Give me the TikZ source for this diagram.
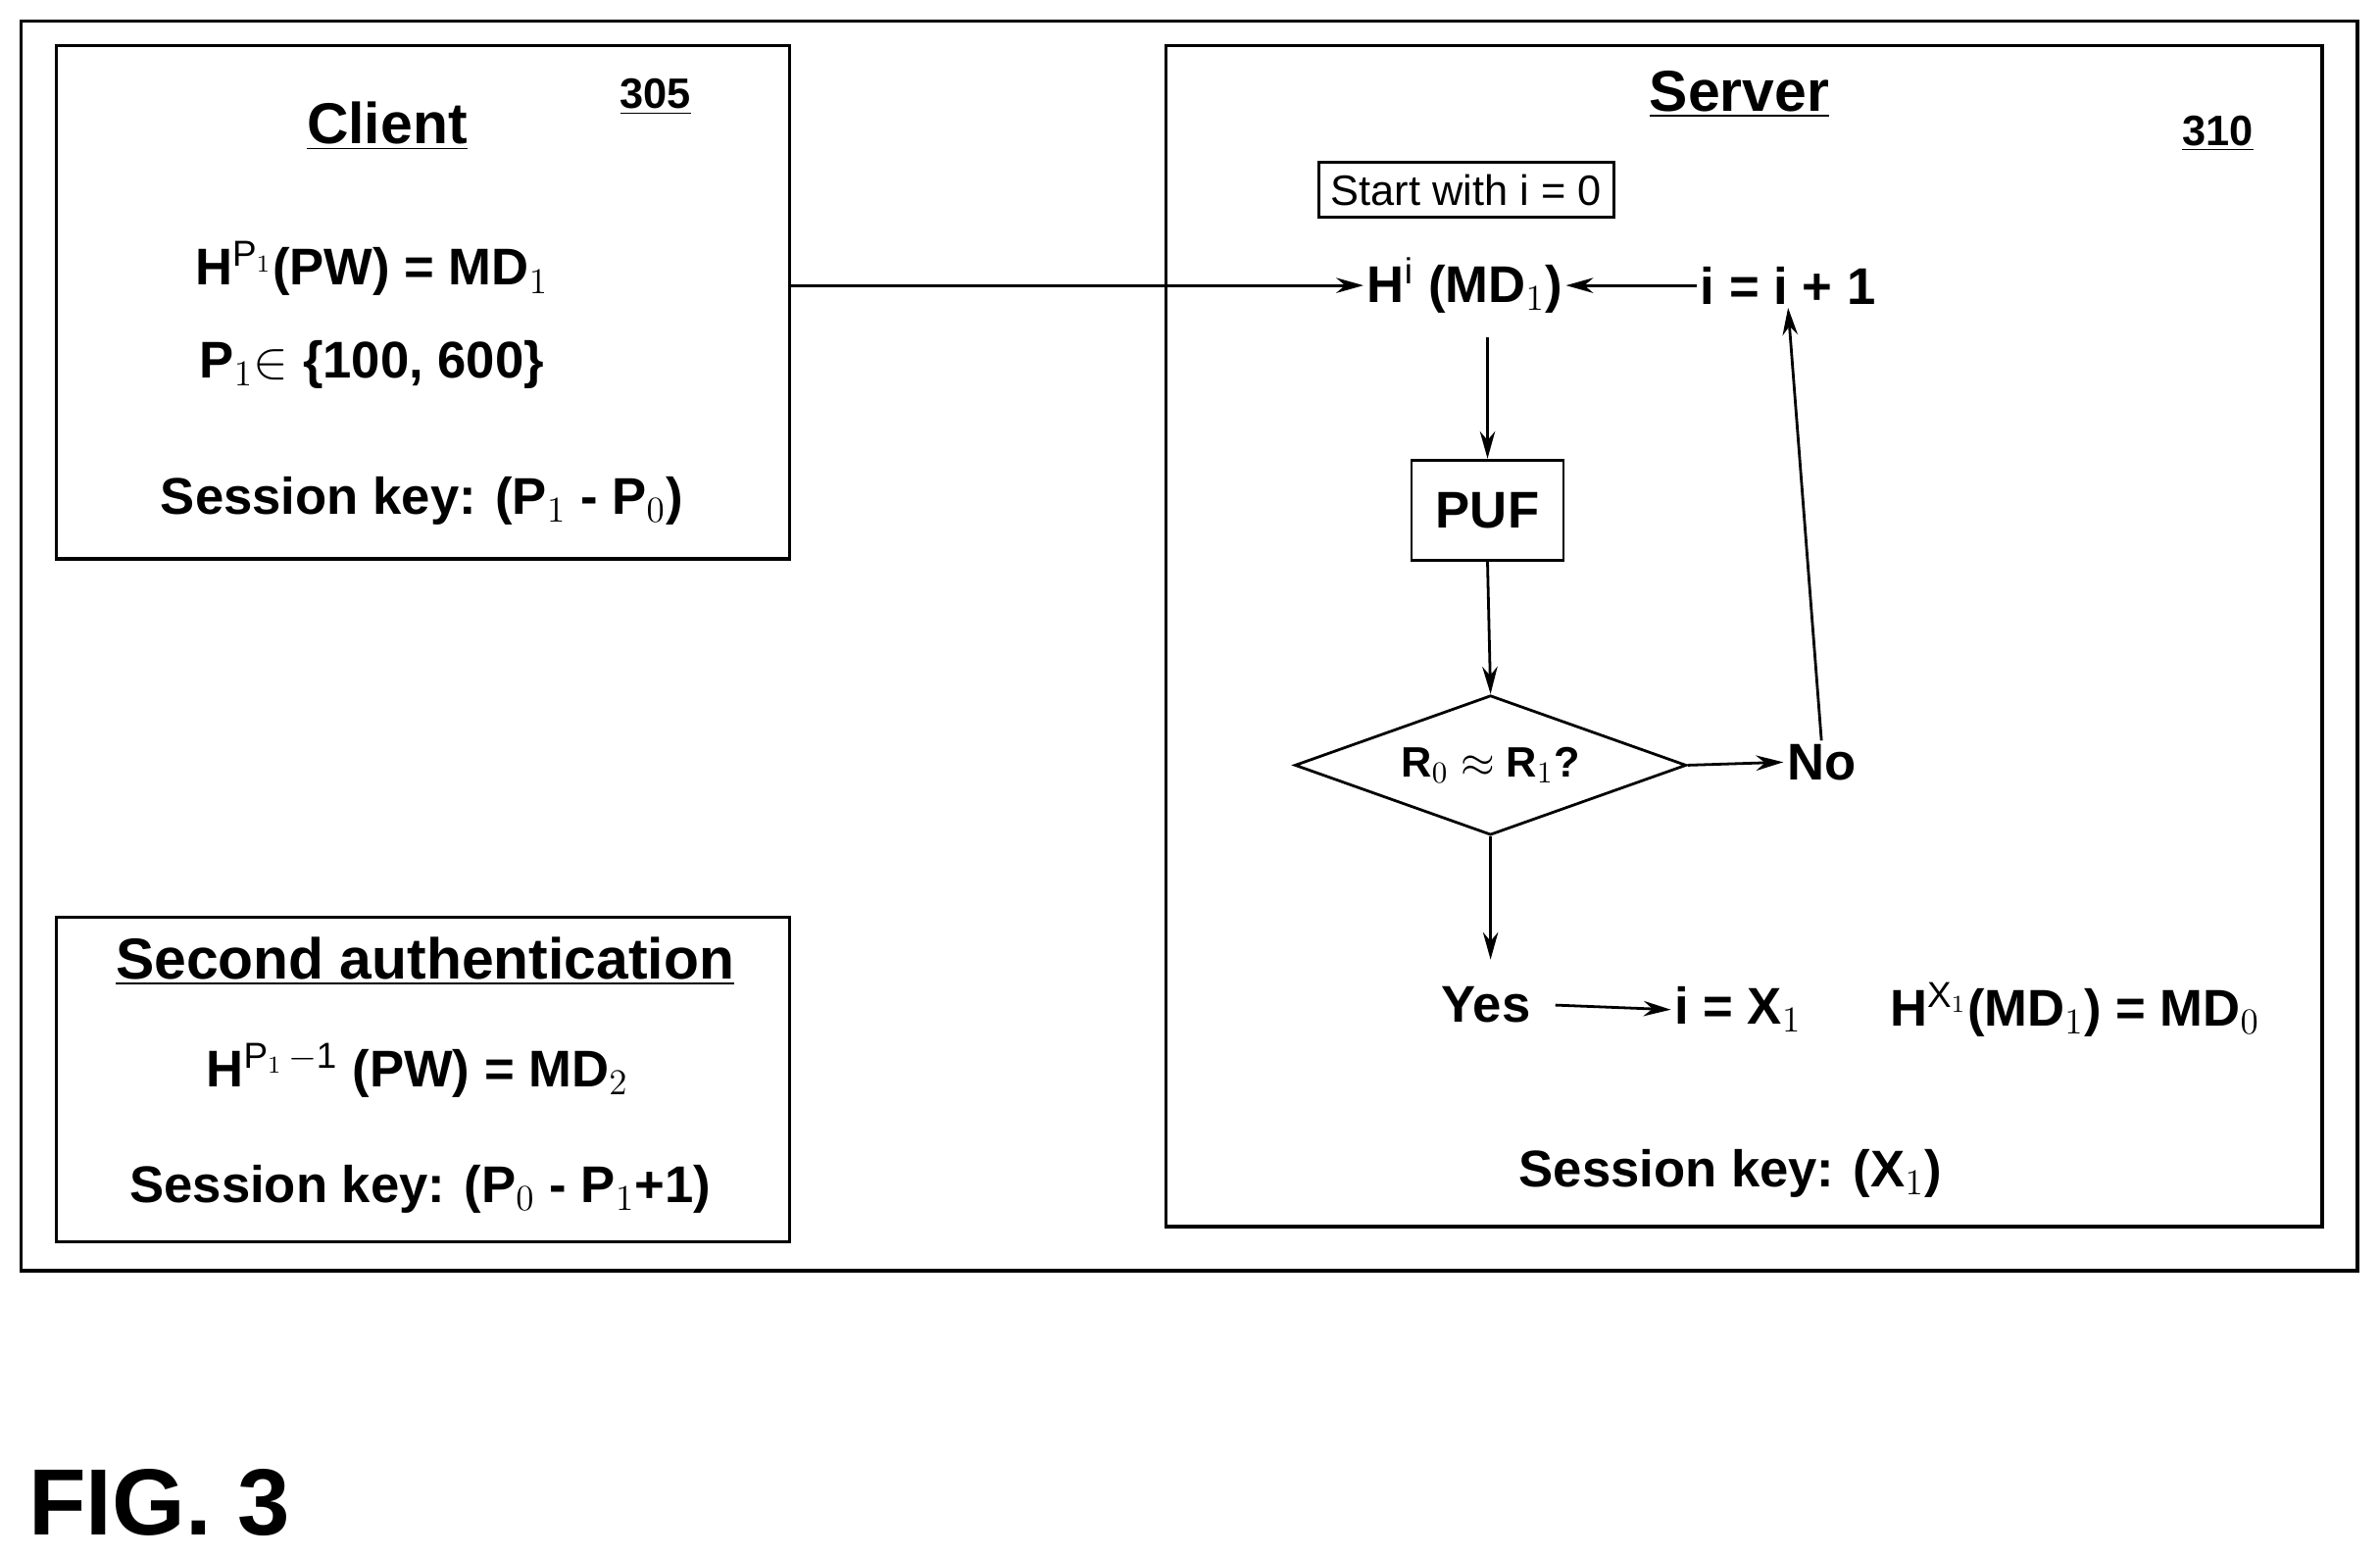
\documentclass[tikz,border=0pt]{standalone}
\usepackage{fontspec}
\setmainfont{Liberation Sans}
\usetikzlibrary{shapes.geometric,arrows.meta}
\begin{document}
\begin{tikzpicture}[x=0.5pt,y=-0.5pt,
  box/.style={draw,line width=1.1pt},
  t/.style={font=\fontsize{17}{20}\selectfont\bfseries,inner sep=1pt},
  ttl/.style={font=\fontsize{19}{22}\selectfont\bfseries,inner sep=1pt},
  ref/.style={font=\fontsize{14}{16}\selectfont\bfseries,inner sep=1pt},
  arr/.style={-{Stealth[length=9pt,width=5pt]},line width=0.9pt}]
\useasboundingbox (0,0) rectangle (1568,1026);
\draw[box] (14,14) rectangle (1553,837);
\draw[box] (37,30) rectangle (520,368);
\draw[box] (37,604) rectangle (520,818);
\draw[box] (768,30) rectangle (1530,808);
% client
\node[ttl] (cl) at (255,83) {\underline{Client}};
\node[ref] (r305) at (432,64) {\underline{305}};
\node[t] (hp) at (245,177) {H$^{\mathrm{P}_1}$(PW) = MD$_1$};
\node[t] (p1) at (245,240) {P$_1$$\in$ \{100, 600\}};
\node[t] (sk1) at (278,330) {Session key: (P$_1$ - P$_0$)};
\coordinate (c1) at (520,188);
% second
\node[ttl] (sa) at (280,633) {\underline{Second authentication}};
\node[t] (hp2) at (275,705) {H$^{\mathrm{P}_1\mathrm{\,-1}}$ (PW) = MD$_2$};
\node[t] (sk2) at (277,783) {Session key: (P$_0$ - P$_1$+1)};
% server
\node[ttl] (sv) at (1146,62) {\underline{Server}};
\node[ref] (r310) at (1461,88) {\underline{310}};
\node[draw,line width=0.9pt,font=\fontsize{14}{16}\selectfont,inner sep=4pt] (st) at (966,125) {Start with i = 0};
\node[t] (h) at (965,188) {H$^{\mathrm{i}}$ (MD$_1$)};
\node[t] (inc) at (1178,188) {i = i + 1};
\node[t,draw,line width=0.9pt,minimum width=50pt,minimum height=33pt] (puf) at (980,336) {PUF};
\node[diamond,draw,line width=0.9pt,aspect=2.8,minimum width=129pt,minimum height=46pt,inner sep=0pt,font=\fontsize{14}{16}\selectfont\bfseries] (d) at (982,504) {R$_0$ $\approx$ R$_1$?};
\node[t] (no) at (1200,502) {No};
\node[t] (yes) at (979,662) {Yes};
\node[t] (ix) at (1145,665) {i = X$_1$};
\node[t] (hx) at (1367,665) {H$^{\mathrm{X}_1}$(MD$_1$) = MD$_0$};
\node[t] (sk3) at (1140,773) {Session key: (X$_1$)};
\node[font=\fontsize{31}{34}\selectfont\bfseries] (fig) at (105,990) {FIG. 3};
% arrows
\draw[arr] (c1) -- (h.west);
\draw[arr] (inc.west) -- (h.east);
\draw[arr] (980,222) -- (puf.north);
\draw[arr] (puf.south) -- (d.north);
\draw[arr] (d.east) -- (no.west);
\draw[arr] (no.north) -- (inc.south);
\draw[arr] (d.south) -- (982,632);
\draw[arr] (yes.east)+(14,0) -- (ix.west);
\end{tikzpicture}
\end{document}
